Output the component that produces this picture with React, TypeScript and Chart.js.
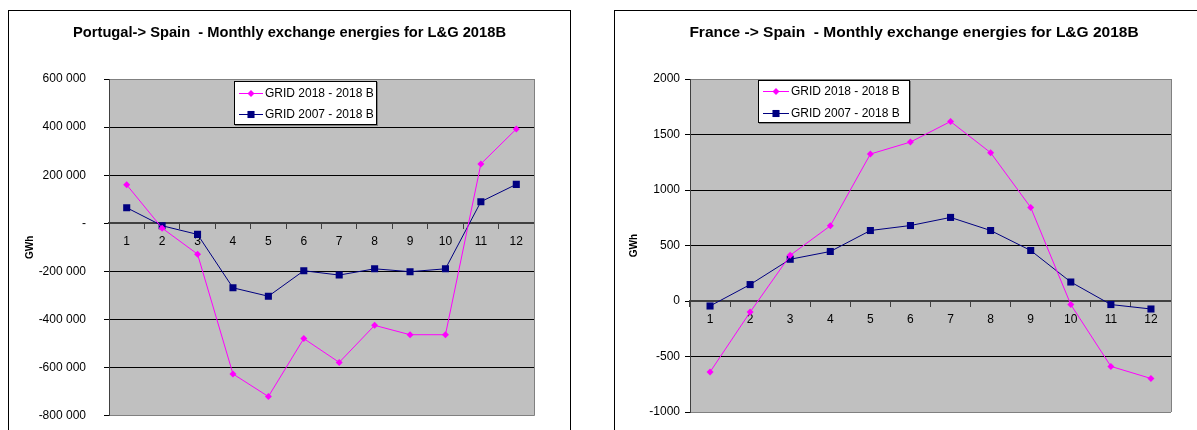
import React, { useEffect, useRef } from 'react';
import { Chart, registerables } from 'chart.js';

Chart.register(...registerables);

// ---- data ----
const months = ['1', '2', '3', '4', '5', '6', '7', '8', '9', '10', '11', '12'];
const seriesNames = ['GRID 2018 - 2018 B', 'GRID 2007 - 2018 B'];

const ptTitle = 'Portugal-> Spain  - Monthly exchange energies for L&G 2018B';
const ptGrid2018 = [160000, -20000, -128000, -626000, -720000, -479000, -578000, -424000, -463000, -463000, 247000, 392000];
const ptGrid2007 = [65000, -10000, -46000, -268000, -303000, -197000, -215000, -189000, -201000, -189000, 90000, 162000];
const ptAxis = [-800000, 600000, 200000];

const frTitle = 'France -> Spain  - Monthly exchange energies for L&G 2018B';
const frGrid2018 = [-640, -100, 412, 677, 1324, 1432, 1617, 1336, 843, -32, -589, -698];
const frGrid2007 = [-45, 148, 376, 446, 635, 680, 753, 635, 455, 171, -32, -72];
const frAxis = [-1000, 2000, 500];

const yTitle = 'GWh';

const FONT = '"Liberation Sans", Arial, Helvetica, sans-serif';
const MAGENTA = '#FF00FF';
const NAVY = '#000080';

function spaceThousands(v: number): string {
  if (v === 0) return '-';
  const s = Math.abs(v).toString().replace(/\B(?=(\d{3})+(?!\d))/g, ' ');
  return (v < 0 ? '-' : '') + s;
}
function plainNum(v: number): string {
  return String(v);
}

const excelLook = {
  id: 'excelLook',
  beforeDraw(chart: any) {
    const { ctx, chartArea: a } = chart;
    ctx.save();
    ctx.fillStyle = '#C0C0C0';
    ctx.fillRect(a.left, a.top, a.right - a.left, a.bottom - a.top);
    ctx.restore();
  },
  afterDraw(chart: any, _args: any, opts: any) {
    const { ctx, chartArea: a } = chart;
    ctx.save();
    // right border of plot
    ctx.strokeStyle = '#808080';
    ctx.lineWidth = 1;
    ctx.beginPath();
    ctx.moveTo(Math.round(a.right) + 0.5, a.top);
    ctx.lineTo(Math.round(a.right) + 0.5, a.bottom);
    ctx.stroke();

    // title
    ctx.fillStyle = '#000';
    ctx.font = 'bold ' + opts.titleSize + 'px ' + FONT;
    ctx.textAlign = 'center';
    ctx.textBaseline = 'middle';
    ctx.fillText(opts.title, chart.width / 2, opts.titleY);

    // legend
    const L = opts.legend;
    const lx = Math.round(a.left + L.x);
    const ly = Math.round(a.top + L.y);
    ctx.fillStyle = '#808080';
    ctx.fillRect(lx + 1, ly + 1, L.w, L.h);
    ctx.fillStyle = '#fff';
    ctx.fillRect(lx, ly, L.w, L.h);
    ctx.strokeStyle = '#000';
    ctx.strokeRect(lx + 0.5, ly + 0.5, L.w - 1, L.h - 1);
    chart.data.datasets.forEach((ds: any, i: number) => {
      const cy = ly + L.rows[i];
      ctx.strokeStyle = ds.borderColor;
      ctx.lineWidth = 1;
      ctx.beginPath();
      ctx.moveTo(lx + L.line0, cy + 0.5);
      ctx.lineTo(lx + L.line1, cy + 0.5);
      ctx.stroke();
      const mx = lx + (L.line0 + L.line1) / 2;
      ctx.fillStyle = ds.pointBackgroundColor;
      ctx.beginPath();
      if (ds.pointStyle === 'rectRot') {
        const r = ds.pointRadius;
        ctx.moveTo(mx, cy + 0.5 - r);
        ctx.lineTo(mx + r, cy + 0.5);
        ctx.lineTo(mx, cy + 0.5 + r);
        ctx.lineTo(mx - r, cy + 0.5);
        ctx.closePath();
      } else {
        const s = ds.pointRadius * Math.SQRT1_2;
        ctx.rect(mx - s, cy + 0.5 - s, 2 * s, 2 * s);
      }
      ctx.fill();
      ctx.fillStyle = '#000';
      ctx.font = '12px ' + FONT;
      ctx.textAlign = 'left';
      ctx.textBaseline = 'middle';
      ctx.fillText(ds.label, lx + L.text, cy + 1);
    });
    ctx.restore();
  },
};

type Props = {
  title: string;
  titleSize: number;
  a: number[];
  b: number[];
  axis: number[];
  fmt: (v: number) => string;
  width: number;
  height: number;
  yWidth: number;
  pad: { top: number; right: number; bottom: number };
  tickPad: number;
  yTitlePad: number;
  legend: any;
};

function LineChart(p: Props) {
  const ref = useRef<HTMLCanvasElement | null>(null);
  useEffect(() => {
    if (!ref.current) return;
    const [min, max, step] = p.axis;
    const chart = new Chart(ref.current, {
      type: 'line',
      data: {
        labels: months,
        datasets: [
          {
            label: seriesNames[0],
            data: p.a,
            borderColor: MAGENTA,
            backgroundColor: MAGENTA,
            pointBackgroundColor: MAGENTA,
            pointBorderColor: MAGENTA,
            pointStyle: 'rectRot',
            pointRadius: 3.5,
            pointBorderWidth: 0,
            borderWidth: 1,
            tension: 0,
          },
          {
            label: seriesNames[1],
            data: p.b,
            borderColor: NAVY,
            backgroundColor: NAVY,
            pointBackgroundColor: NAVY,
            pointBorderColor: NAVY,
            pointStyle: 'rect',
            pointRadius: 5,
            pointBorderWidth: 0,
            borderWidth: 1,
            tension: 0,
          },
        ],
      },
      options: {
        animation: false,
        responsive: false,
        maintainAspectRatio: false,
        layout: { padding: { left: 0, top: p.pad.top, right: p.pad.right, bottom: p.pad.bottom } },
        plugins: {
          legend: { display: false },
          title: { display: false },
          tooltip: { enabled: false },
          excelLook: { title: p.title, titleSize: p.titleSize, titleY: 22, legend: p.legend },
        } as any,
        scales: {
          x: {
            type: 'category',
            position: { y: 0 } as any,
            offset: true,
            grid: {
              offset: true,
              drawOnChartArea: false,
              drawTicks: true,
              tickLength: 5,
              color: '#404040',
              tickColor: '#404040',
            },
            border: { display: true, color: '#404040', width: 2 },
            ticks: {
              color: '#000',
              font: { family: FONT, size: 12 },
              padding: 6,
              maxRotation: 0,
              autoSkip: false,
            },
          },
          y: {
            type: 'linear',
            position: 'left',
            min,
            max,
            afterFit: (s: any) => {
              s.width = p.yWidth;
            },
            grid: {
              color: (c: any) =>
                c.tick && (c.tick.value === min || c.tick.value === max) ? '#808080' : '#000',
              tickColor: '#000',
              drawTicks: true,
              tickLength: 5,
              lineWidth: 1,
            },
            border: { display: true, color: '#404040', width: 1 },
            ticks: {
              stepSize: step,
              color: '#000',
              font: { family: FONT, size: 12 },
              padding: p.tickPad,
              callback: (v: any) => p.fmt(Number(v)),
            },
            title: {
              display: true,
              text: yTitle,
              color: '#000',
              font: { family: FONT, size: 10, weight: 'bold' },
              padding: { top: p.yTitlePad, bottom: 0 },
            },
          },
        },
      },
      plugins: [excelLook as any],
    });
    return () => chart.destroy();
  }, []);
  return (
    <canvas
      ref={ref}
      width={p.width}
      height={p.height}
      style={{ display: 'block', width: p.width, height: p.height }}
    />
  );
}

export default function App() {
  return (
    <div
      style={{
        position: 'absolute',
        left: 0,
        top: 0,
        width: 1197,
        height: 430,
        overflow: 'hidden',
        background: '#fff',
      }}
    >
      <div
        style={{
          position: 'absolute',
          left: 8,
          top: 10,
          width: 561,
          height: 440,
          border: '1px solid #000',
          background: '#fff',
        }}
      >
        <LineChart
          title={ptTitle}
          titleSize={14.7}
          a={ptGrid2018}
          b={ptGrid2007}
          axis={ptAxis}
          fmt={spaceThousands}
          width={561}
          height={430}
          yWidth={100}
          pad={{ top: 68, right: 36, bottom: 25 }}
          tickPad={18}
          yTitlePad={15}
          legend={{ x: 125, y: 2, w: 143, h: 44, rows: [12, 33], line0: 5, line1: 29, text: 31 }}
        />
      </div>
      <div
        style={{
          position: 'absolute',
          left: 614,
          top: 10,
          width: 598,
          height: 440,
          border: '1px solid #000',
          background: '#fff',
        }}
      >
        <LineChart
          title={frTitle}
          titleSize={15.5}
          a={frGrid2018}
          b={frGrid2007}
          axis={frAxis}
          fmt={plainNum}
          width={598}
          height={430}
          yWidth={75}
          pad={{ top: 68, right: 42, bottom: 29 }}
          tickPad={5}
          yTitlePad={13}
          legend={{ x: 68, y: 1, w: 152, h: 43, rows: [11, 33], line0: 5, line1: 31, text: 33 }}
        />
      </div>
    </div>
  );
}
